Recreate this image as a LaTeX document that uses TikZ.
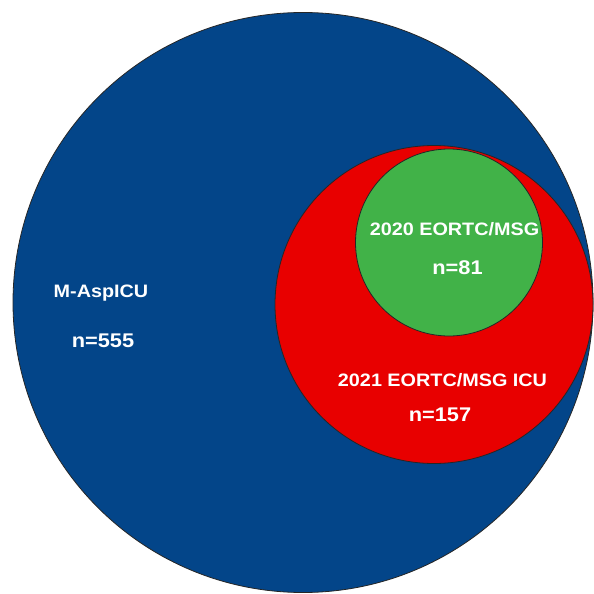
\documentclass[tikz,border=0pt]{standalone}
\usepackage{fontspec}
\newfontfamily\labfont[FakeStretch=1.1]{Liberation Sans}
\definecolor{mblue}{RGB}{3,69,137}
\definecolor{mred}{RGB}{232,0,0}
\definecolor{mgreen}{RGB}{65,178,72}
\begin{document}
\begin{tikzpicture}[x=1pt,y=-1pt,
  venn/.style={circle, draw=black!85, line width=0.8pt, inner sep=0pt, outer sep=0pt},
  lab/.style={text=white, font=\labfont\bfseries\fontsize{18}{20}\selectfont, anchor=base, inner sep=0pt},
  numlab/.style={lab, font=\labfont\bfseries\fontsize{19.8}{22}\selectfont}]
\useasboundingbox[fill=white] (0,0) rectangle (594,594);
\node[venn, fill=mblue, minimum size=580pt] (all) at (303,302.5) {};
\node[venn, fill=mred, minimum size=318pt] (icu) at (434,304.5) {};
\node[venn, fill=mgreen, minimum size=187pt] (eortc) at (449,242.5) {};
\node[lab] (allname) at (101,297) {M-AspICU};
\node[numlab] (alln) at (103,347.5) {n=555};
\node[lab] (eortcname) at (454.5,235) {2020 EORTC/MSG};
\node[numlab] (eortcn) at (457.5,274) {n=81};
\node[lab] (icuname) at (442.5,386.5) {2021 EORTC/MSG ICU};
\node[numlab] (icun) at (440,421) {n=157};
\end{tikzpicture}
\end{document}
